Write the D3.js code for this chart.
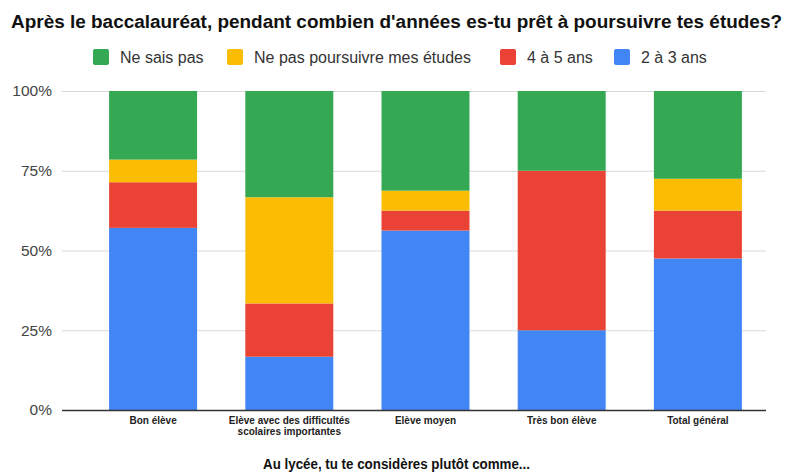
<!DOCTYPE html>
<html>
<head>
<meta charset="utf-8">
<script src="https://cdn.jsdelivr.net/npm/d3@7"></script>
<style>
  body { margin: 0; background: #fff; }
  svg { font-family: Arial, "Liberation Sans", sans-serif; }
</style>
</head>
<body>
<main></main>
<script>
const categories = ["Bon élève", "Elève avec des difficultés\nscolaires importantes", "Elève moyen", "Très bon élève", "Total général"];
const seriesNames = ["2 à 3 ans", "4 à 5 ans", "Ne pas poursuivre mes études", "Ne sais pas"];
const deuxTrois = [57.1, 16.7, 56.25, 25, 47.5];
const quatreCinq = [14.3, 16.7, 6.25, 50, 15];
const nePas = [7.1, 33.3, 6.25, 0, 10];
const neSaisPas = [21.5, 33.3, 31.25, 25, 27.5];
const yTicks = [0, 25, 50, 75, 100];
const legendOrder = ["Ne sais pas", "Ne pas poursuivre mes études", "4 à 5 ans", "2 à 3 ans"];
const colors = {"2 à 3 ans": "#4285f4", "4 à 5 ans": "#ea4335", "Ne pas poursuivre mes études": "#fbbc04", "Ne sais pas": "#34a853"};

const w = 787, h = 473,
	margin = {top: 91, right: 21, bottom: 63, left: 62};

const table = categories.map((c, i) => ({
	cat: c,
	"2 à 3 ans": deuxTrois[i],
	"4 à 5 ans": quatreCinq[i],
	"Ne pas poursuivre mes études": nePas[i],
	"Ne sais pas": neSaisPas[i]
}));

const stacked = d3.stack().keys(seriesNames)(table);

const svg = d3.select("main")
	.append("svg")
	.attr("width", w)
	.attr("height", h);

const xScale = d3.scaleBand()
	.domain(categories)
	.range([85, w - margin.right])
	.paddingInner(0.354)
	.paddingOuter(0.177);

const yScale = d3.scaleLinear()
	.domain([0, 100])
	.range([h - margin.bottom, margin.top]);

// grid
svg.append("g")
	.selectAll("line")
	.data(yTicks.filter(d => d > 0))
	.enter()
	.append("line")
	.attr("x1", margin.left)
	.attr("x2", w - margin.right)
	.attr("y1", d => yScale(d) + 0.5)
	.attr("y2", d => yScale(d) + 0.5)
	.attr("stroke", "#d9d9d9")
	.attr("stroke-width", 1);

// y labels
const yAxis = d3.axisLeft(yScale)
	.tickValues(yTicks)
	.tickFormat(d => d + "%")
	.tickSize(0)
	.tickPadding(10);
const yg = svg.append("g")
	.attr("transform", "translate(" + margin.left + ",0)")
	.call(yAxis);
yg.select(".domain").remove();
yg.selectAll("text")
	.attr("font-size", 15.5)
	.attr("fill", "#444")
	.attr("font-family", "Arial, 'Liberation Sans', sans-serif");

// bars
svg.append("g")
	.selectAll("g")
	.data(stacked)
	.enter()
	.append("g")
	.attr("fill", d => colors[d.key])
	.selectAll("rect")
	.data(d => d)
	.enter()
	.append("rect")
	.attr("x", d => xScale(d.data.cat))
	.attr("y", d => yScale(d[1]))
	.attr("width", xScale.bandwidth())
	.attr("height", d => yScale(d[0]) - yScale(d[1]));

// x axis
const xAxis = d3.axisBottom(xScale).tickSize(0).tickPadding(6).tickFormat("");
const xg = svg.append("g")
	.attr("transform", "translate(0," + (h - margin.bottom) + ")")
	.call(xAxis);
xg.select(".domain").remove();
svg.append("line")
	.attr("x1", margin.left)
	.attr("x2", w - margin.right)
	.attr("y1", h - margin.bottom + 0.5)
	.attr("y2", h - margin.bottom + 0.5)
	.attr("stroke", "#333")
	.attr("stroke-width", 1.3);

xg.selectAll(".tick")
	.each(function(d) {
		const t = d3.select(this).append("text")
			.attr("text-anchor", "middle")
			.attr("font-size", 10)
			.attr("font-weight", "bold")
			.attr("fill", "#222")
			.attr("font-family", "Arial, 'Liberation Sans', sans-serif");
		d.split("\n").forEach((line, i) => {
			t.append("tspan")
				.attr("x", 0)
				.attr("y", 14 + i * 11)
				.text(line);
		});
	});

// title
svg.append("text")
	.attr("x", 11)
	.attr("y", 28)
	.attr("font-size", 18)
	.attr("font-weight", "bold")
	.attr("fill", "#111")
	.attr("textLength", 771)
	.attr("lengthAdjust", "spacingAndGlyphs")
	.text("Après le baccalauréat, pendant combien d'années es-tu prêt à poursuivre tes études?");

// axis title
svg.append("text")
	.attr("x", 263)
	.attr("y", 469)
	.attr("font-size", 14.5)
	.attr("font-weight", "bold")
	.attr("fill", "#111")
	.attr("textLength", 267)
	.attr("lengthAdjust", "spacingAndGlyphs")
	.text("Au lycée, tu te considères plutôt comme...");

// legend
const legendX = [93, 227, 500, 614];
const legend = svg.append("g")
	.selectAll("g")
	.data(legendOrder)
	.enter()
	.append("g")
	.attr("transform", (d, i) => "translate(" + legendX[i] + ",49)");
legend.append("rect")
	.attr("width", 16)
	.attr("height", 16)
	.attr("rx", 2)
	.attr("fill", d => colors[d]);
legend.append("text")
	.attr("x", 27)
	.attr("y", 14)
	.attr("font-size", 16)
	.attr("fill", "#333")
	.text(d => d);
</script>
</body>
</html>
